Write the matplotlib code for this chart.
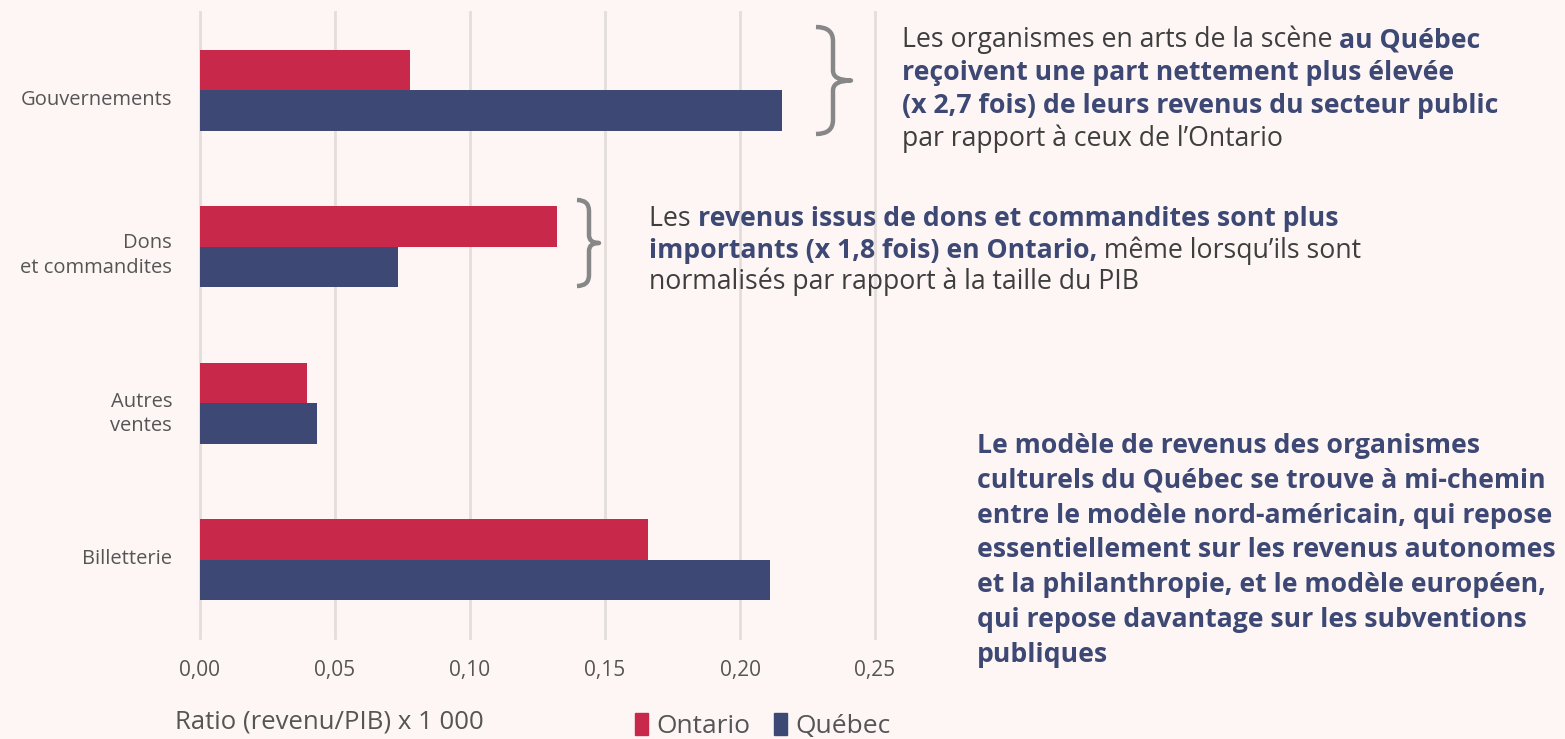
import matplotlib
matplotlib.use("Agg")
import matplotlib.pyplot as plt
import matplotlib.transforms as mtransforms
from matplotlib.path import Path
from matplotlib.patches import PathPatch, Patch
import numpy as np

categories = ["Gouvernements", "Dons\net commandites", "Autres\nventes", "Billetterie"]
ontario = [0.0778, 0.1322, 0.0396, 0.1659]
quebec = [0.2156, 0.0733, 0.0433, 0.2111]
xticks = [0.00, 0.05, 0.10, 0.15, 0.20, 0.25]
xtick_labels = ["0,00", "0,05", "0,10", "0,15", "0,20", "0,25"]
series_names = ["Ontario", "Québec"]

BG = "#FDF6F4"
RED = "#C8294A"
NAVY = "#3D4874"
GRAY_TXT = "#555555"
DARK_TXT = "#3E3E3E"
GRID = "#E3DEDC"
BRACE = "#878787"
FONT = "Open Sans"

W, H = 1565, 739
fig = plt.figure(figsize=(W / 100, H / 100), dpi=100, facecolor=BG)
plt.rcParams["font.family"] = [FONT, "DejaVu Sans"]

def fx(px):
    return px / W

def fy(py):
    return 1 - py / H

ax = fig.add_axes([fx(200), fy(638), fx(875) - fx(200), fy(12) - fy(638)])
ax.set_facecolor(BG)

y = np.arange(len(categories))
h = 0.26
ax.barh(y - h / 2, ontario, height=h, color=RED, label=series_names[0], zorder=3)
ax.barh(y + h / 2, quebec, height=h, color=NAVY, label=series_names[1], zorder=3)
ax.set_ylim(3.5, -0.5)
ax.set_xlim(0, 0.25)
ax.set_xticks(xticks)
ax.set_xticklabels(xtick_labels, fontsize=15, color=GRAY_TXT)
ax.set_yticks(y)
ax.set_yticklabels(categories, fontsize=14.5, color=GRAY_TXT, linespacing=1.3)
ax.tick_params(axis="both", length=0)
ax.tick_params(axis="x", pad=16)
ax.tick_params(axis="y", pad=20)
ax.grid(axis="x", color=GRID, linewidth=2, zorder=0)
for ln in ax.get_xgridlines():
    ln.set_clip_on(False)
for s in ax.spines.values():
    s.set_visible(False)

# small vertical nudges of the category labels (pixels, downward positive)
label_nudge = [7, 4, 6, -3]
for lbl, dy in zip(ax.get_yticklabels(), label_nudge):
    lbl.set_transform(lbl.get_transform() +
                      mtransforms.ScaledTranslation(0, -dy / 100, fig.dpi_scale_trans))

fig.text(fx(175), fy(722), "Ratio (revenu/PIB) x 1 000", fontsize=18.5, color=GRAY_TXT,
         ha="left", va="center")

handles = [Patch(color=RED), Patch(color=NAVY)]
fig.legend(handles, series_names, loc="center left", bbox_to_anchor=(fx(635), fy(726)),
           frameon=False, fontsize=19, labelcolor=GRAY_TXT, handlelength=0.5,
           handleheight=0.9, handletextpad=0.3, columnspacing=0.9, ncol=2,
           borderaxespad=0, borderpad=0)

def brace(x0, xm, x1, ytop, ybot, r):
    ymid = (ytop + ybot) / 2
    pts = [
        (x0, ytop), (xm, ytop), (xm, ytop + r),
        (xm, ymid - r / 1.4),
        (xm, ymid), (x1, ymid),
        (xm, ymid), (xm, ymid + r / 1.4),
        (xm, ybot - r),
        (xm, ybot), (x0, ybot),
    ]
    codes = [Path.MOVETO, Path.CURVE3, Path.CURVE3, Path.LINETO,
             Path.CURVE3, Path.CURVE3, Path.CURVE3, Path.CURVE3,
             Path.LINETO, Path.CURVE3, Path.CURVE3]
    verts = [(fx(a), fy(b)) for a, b in pts]
    p = PathPatch(Path(verts, codes), transform=fig.transFigure, fill=False,
                  edgecolor=BRACE, linewidth=3.2, capstyle="butt", joinstyle="round")
    fig.add_artist(p)

brace(816, 833, 851, 27, 134, 14)
brace(577, 589, 599, 200, 286, 11)

fig.canvas.draw()
renderer = fig.canvas.get_renderer()

def rich_line(x_px, base_px, segments, size):
    x = x_px
    for txt, bold in segments:
        t = fig.text(fx(x), fy(base_px), txt, fontsize=size,
                     fontweight="bold" if bold else "normal",
                     color=NAVY if bold else DARK_TXT, ha="left", va="baseline")
        bb = t.get_window_extent(renderer)
        x += bb.width

size_a = 19.2
lines1 = [
    [("Les organismes en arts de la scène ", False), ("au Québec", True)],
    [("reçoivent une part nettement plus élevée", True)],
    [("(x 2,7 fois) de leurs revenus du secteur public", True)],
    [("par rapport à ceux de l’Ontario", False)],
]
for i, segs in enumerate(lines1):
    rich_line(902, 47 + 33 * i, segs, size_a)

lines2 = [
    [("Les ", False), ("revenus issus de dons et commandites sont plus", True)],
    [("importants (x 1,8 fois) en Ontario,", True), (" même lorsqu’ils sont", False)],
    [("normalisés par rapport à la taille du PIB", False)],
]
for i, segs in enumerate(lines2):
    rich_line(649, 226 + 31.5 * i, segs, size_a)

lines3 = [
    "Le modèle de revenus des organismes",
    "culturels du Québec se trouve à mi-chemin",
    "entre le modèle nord-américain, qui repose",
    "essentiellement sur les revenus autonomes",
    "et la philanthropie, et le modèle européen,",
    "qui repose davantage sur les subventions",
    "publiques",
]
for i, txt in enumerate(lines3):
    rich_line(977, 453 + 34.8 * i, [(txt, True)], size_a)

fig.savefig("out.png", dpi=100, facecolor=BG)
